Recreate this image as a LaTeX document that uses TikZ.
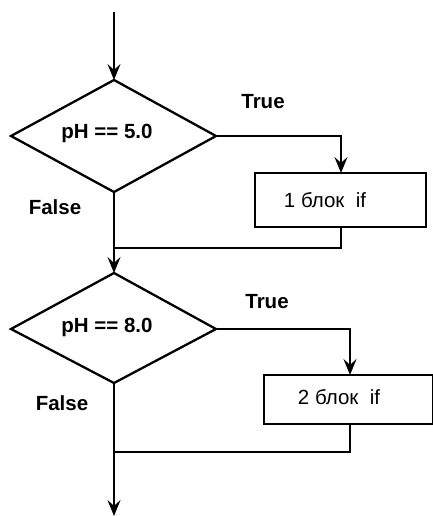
\documentclass[tikz,border=0pt]{standalone}
\usepackage{fontspec}
\setmainfont{Liberation Sans}
\usetikzlibrary{shapes.geometric,arrows.meta}
\begin{document}
\begin{tikzpicture}[x=1pt,y=-1pt,
  line/.style={line width=2.3pt},
  arr/.style={line, -{Stealth[length=16pt,width=13pt,inset=6pt]}},
  lbl/.style={font=\fontsize{20.5}{24}\selectfont\bfseries, inner sep=0pt},
  boxtext/.style={font=\fontsize{20.5}{24}\selectfont, inner sep=0pt}]
\useasboundingbox (0,0) rectangle (432,516);
% first decision
\coordinate (start) at (114,12);
\draw[line, line join=miter] (11,136) -- (114,80) -- (216,136) -- (114,192) -- cycle;
\coordinate (d1l) at (11,136); \coordinate (d1t) at (114,80);
\coordinate (d1r) at (216,136); \coordinate (d1b) at (114,192);
\node[lbl] (c1) at (107,133) {pH == 5.0};
\draw[arr] (start) -- (d1t);
\draw[line] (255,173) rectangle (426,227);
\coordinate (b1t) at (341,173); \coordinate (b1b) at (341,227);
\node[boxtext] (t1) at (325,200) {1 блок\ \ if};
\draw[arr] (d1r) -| (b1t);
\coordinate (j1) at (114,248);
\draw[line] (b1b) |- (j1);
\node[lbl] (true1) at (263,102) {True};
\node[lbl] (false1) at (55,207) {False};
% second decision
\draw[line, line join=miter] (11,329) -- (114,273) -- (216,329) -- (114,383) -- cycle;
\coordinate (d2t) at (114,273); \coordinate (d2r) at (216,329); \coordinate (d2b) at (114,383);
\node[lbl] (c2) at (107,327) {pH == 8.0};
\draw[arr] (d1b) -- (d2t);
\draw[line] (264,375) rectangle (433,424);
\coordinate (b2t) at (350,375); \coordinate (b2b) at (350,424);
\node[boxtext] (t2) at (339,397) {2 блок\ \ if};
\draw[arr] (d2r) -| (b2t);
\coordinate (j2) at (114,452);
\draw[line] (b2b) |- (j2);
\coordinate (end) at (114,516);
\draw[arr] (d2b) -- (end);
\node[lbl] (true2) at (267,302) {True};
\node[lbl] (false2) at (62,403) {False};
\end{tikzpicture}
\end{document}
